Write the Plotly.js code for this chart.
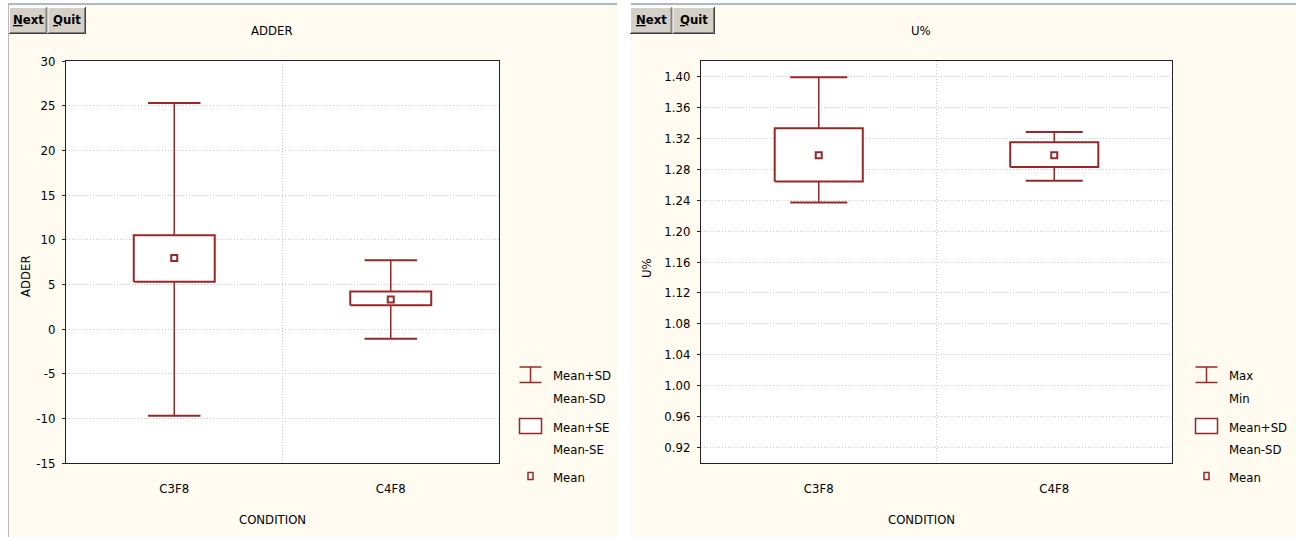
<!DOCTYPE html>
<html><head><meta charset="utf-8">
<script src="https://cdn.plot.ly/plotly-3.0.1.min.js"></script>
<style>html,body{margin:0;padding:0;background:#fff}#chart{width:1296px;height:537px}</style>
</head><body><div id="chart"></div>
<script>
// ---------- data ----------
const categories = ['C3F8', 'C4F8'];
// ADDER panel
const adderMean = [7.95, 3.3];
const adderSEhi = [10.5, 4.2];
const adderSElo = [5.3, 2.65];
const adderSDhi = [25.3, 7.7];
const adderSDlo = [-9.7, -1.1];
const adderTicks = [-15, -10, -5, 0, 5, 10, 15, 20, 25, 30];
// U% panel
const uMean = [1.298, 1.298];
const uSDhi = [1.333, 1.315];
const uSDlo = [1.264, 1.283];
const uMax = [1.399, 1.328];
const uMin = [1.237, 1.265];
const uTicks = [0.92, 0.96, 1.00, 1.04, 1.08, 1.12, 1.16, 1.20, 1.24, 1.28, 1.32, 1.36, 1.40];
const uTickText = uTicks.map(v => v.toFixed(2));
const legendLeft = ['Mean+SD', 'Mean-SD', 'Mean+SE', 'Mean-SE', 'Mean'];
const legendRight = ['Max', 'Min', 'Mean+SD', 'Mean-SD', 'Mean'];

// ---------- style ----------
const W = 1296, H = 537;
const RED = '#982828';
const CREAM = '#FFFBF0';
const FONT = "'Liberation Sans Narrow', 'Arial Narrow', 'DejaVu Sans Condensed', sans-serif";
const FS = 13;
const GRID = '#c8c8c8';
const px = x => x / W;
const py = y => 1 - y / H;
const BOXHALF = 0.187, CAPHALF = 0.121;

function panelTraces(xa, ya, mean, bHi, bLo, wHi, wLo) {
  const tr = [];
  const wx = [], wy = [], cx = [], cy = [];
  categories.forEach((c, i) => {
    wx.push(i, i, null); wy.push(wLo[i], wHi[i], null);
    cx.push(i - CAPHALF, i + CAPHALF, null, i - CAPHALF, i + CAPHALF, null);
    cy.push(wHi[i], wHi[i], null, wLo[i], wLo[i], null);
  });
  tr.push({type: 'scatter', mode: 'lines', x: wx, y: wy, xaxis: xa, yaxis: ya,
    line: {color: RED, width: 1.5}, hoverinfo: 'skip', showlegend: false});
  tr.push({type: 'scatter', mode: 'lines', x: cx, y: cy, xaxis: xa, yaxis: ya,
    line: {color: RED, width: 2}, hoverinfo: 'skip', showlegend: false});
  categories.forEach((c, i) => {
    tr.push({type: 'scatter', mode: 'lines', fill: 'toself', fillcolor: '#ffffff',
      x: [i - BOXHALF, i + BOXHALF, i + BOXHALF, i - BOXHALF, i - BOXHALF],
      y: [bLo[i], bLo[i], bHi[i], bHi[i], bLo[i]], xaxis: xa, yaxis: ya,
      line: {color: RED, width: 2}, hoverinfo: 'skip', showlegend: false});
  });
  tr.push({type: 'scatter', mode: 'markers', x: categories.map((c, i) => i), y: mean,
    xaxis: xa, yaxis: ya, marker: {symbol: 'square-open', size: 6, color: RED, line: {width: 2, color: RED}},
    hoverinfo: 'skip', showlegend: false});
  return tr;
}

const data = [
  ...panelTraces('x', 'y', adderMean, adderSEhi, adderSElo, adderSDhi, adderSDlo),
  ...panelTraces('x2', 'y2', uMean, uSDhi, uSDlo, uMax, uMin)
];

function xAxis(domain) {
  return {
    domain: domain, range: [-0.5, 1.5], tickmode: 'array', tickvals: [0, 1], ticktext: categories,
    showgrid: false, zeroline: false, showline: true, mirror: true, linecolor: '#222', linewidth: 1,
    ticks: '', ticklabelstandoff: 13, tickfont: {family: FONT, size: FS, color: '#000'},
    minor: {tickvals: [0.5], showgrid: true, gridcolor: GRID, griddash: '1px,2px', gridwidth: 1, ticks: ''},
    fixedrange: true
  };
}
function yAxis(domain, range, tickvals, ticktext, anchor) {
  return {
    domain: domain, range: range, tickmode: 'array', tickvals: tickvals, ticktext: ticktext,
    anchor: anchor, showgrid: true, gridcolor: GRID, griddash: '1px,2px', gridwidth: 1,
    zeroline: false, showline: true, mirror: true, linecolor: '#222', linewidth: 1,
    ticks: 'outside', ticklen: 3, tickcolor: '#222', ticklabelstandoff: 4,
    tickfont: {family: FONT, size: FS, color: '#000'}, fixedrange: true
  };
}

const yDom = [py(463), py(61)];
const layout = {
  width: W, height: H, margin: {l: 0, r: 0, t: 0, b: 0},
  paper_bgcolor: CREAM, plot_bgcolor: '#ffffff', showlegend: false,
  xaxis: Object.assign(xAxis([px(66), px(499)]), {anchor: 'y'}),
  yaxis: yAxis(yDom, [-15, 30], adderTicks, adderTicks.map(String), 'x'),
  xaxis2: Object.assign(xAxis([px(701), px(1172)]), {anchor: 'y2'}),
  yaxis2: yAxis(yDom, [0.9, 1.42], uTicks, uTickText, 'x2'),
  shapes: [], annotations: []
};

const S = layout.shapes, A = layout.annotations;
function rect(x0, y0, x1, y1, fill, lineColor, lw) {
  S.push({type: 'rect', xref: 'paper', yref: 'paper', x0: px(x0), x1: px(x1), y0: py(y0), y1: py(y1),
    fillcolor: fill, line: {color: lineColor || fill, width: lw === undefined ? 0 : lw}, layer: 'below'});
}
function line(x0, y0, x1, y1, color, w, layer) {
  S.push({type: 'line', xref: 'paper', yref: 'paper', x0: px(x0), x1: px(x1), y0: py(y0), y1: py(y1),
    line: {color: color, width: w}, layer: layer || 'above'});
}
function text(t, x, y, opts) {
  A.push(Object.assign({text: t, x: px(x), y: py(y), xref: 'paper', yref: 'paper', showarrow: false,
    xanchor: 'center', yanchor: 'middle', font: {family: FONT, size: FS, color: '#000'}}, opts || {}));
}

// window frame details
rect(0, 0, 8, 537, '#ffffff');
rect(0, 0, 1296, 3.5, '#ffffff');
rect(617, 0, 631, 537, '#ffffff');
line(8, 4, 617, 4, '#5472a8', 1);
line(631, 4, 1296, 4, '#5472a8', 1);
line(8.5, 4, 8.5, 537, '#b8b8b8', 1);

// buttons
function button(x0, x1, label) {
  rect(x0, 7, x1, 34, '#D4D0C8', '#D4D0C8', 0);
  line(x0, 7.5, x1, 7.5, '#ffffff', 1);
  line(x0 + 0.5, 7, x0 + 0.5, 34, '#ffffff', 1);
  line(x0, 33.5, x1, 33.5, '#404040', 1);
  line(x1 - 0.5, 7, x1 - 0.5, 34, '#404040', 1);
  line(x0 + 1, 32.5, x1 - 1, 32.5, '#808080', 1);
  line(x1 - 1.5, 8, x1 - 1.5, 33, '#808080', 1);
  text(label, (x0 + x1) / 2, 20, {font: {family: FONT, size: 13, color: '#000'}});
}
button(9, 47.5, '<b><u>N</u>ext</b>');
button(47.5, 86, '<b><u>Q</u>uit</b>');
button(630, 672.5, '<b><u>N</u>ext</b>');
button(672.5, 715, '<b><u>Q</u>uit</b>');

// titles and axis titles
text('ADDER', 272, 31);
text('U%', 921, 31);
text('CONDITION', 272, 519);
text('CONDITION', 921, 519);
text('ADDER', 25, 276, {textangle: -90});
text('U%', 647, 268, {textangle: -90});

// legends
function legend(lx, labels) {
  const cxm = lx + 11;
  line(lx, 367, lx + 22, 367, RED, 1.5);
  line(lx, 382.5, lx + 22, 382.5, RED, 1.5);
  line(cxm, 367, cxm, 382.5, RED, 1.5);
  S.push({type: 'rect', xref: 'paper', yref: 'paper', x0: px(lx), x1: px(lx + 22), y0: py(433.5), y1: py(418.5),
    fillcolor: '#ffffff', line: {color: RED, width: 1.5}, layer: 'above'});
  S.push({type: 'rect', xref: 'paper', yref: 'paper', x0: px(cxm - 2.5), x1: px(cxm + 2.5), y0: py(479.5), y1: py(472.5),
    fillcolor: '#ffffff', line: {color: RED, width: 1.5}, layer: 'above'});
  const tx = lx + 31;
  const ys = [375.5, 398, 427.5, 449, 477.5];
  labels.forEach((l, i) => text(l, tx, ys[i], {xanchor: 'left'}));
}
legend(519.5, legendLeft);
legend(1195.5, legendRight);

Plotly.newPlot('chart', data, layout, {displayModeBar: false, staticPlot: true});
</script>
</body></html>
